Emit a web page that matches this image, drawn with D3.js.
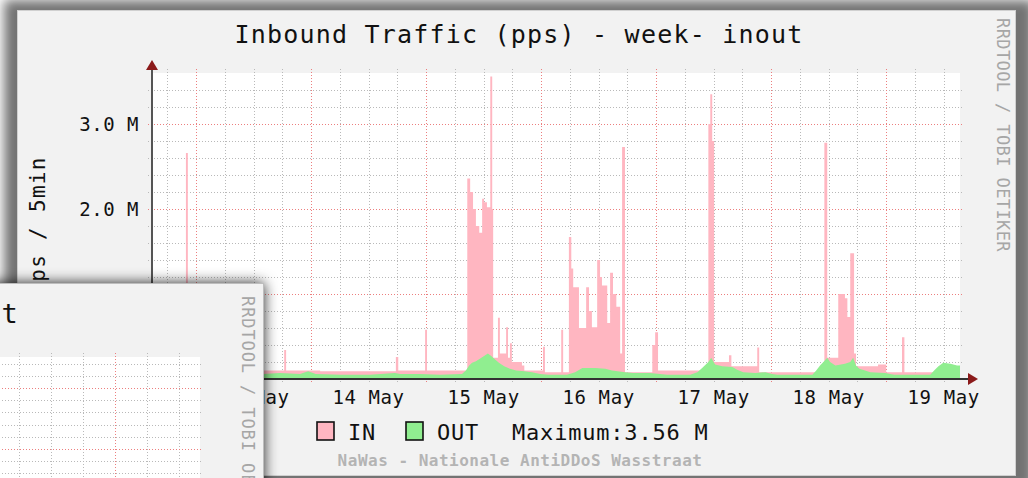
<!DOCTYPE html>
<html>
<head>
<meta charset="utf-8">
<script src="https://cdn.jsdelivr.net/npm/d3@7"></script>
<style>
body { margin: 0; background: #fff; }
svg { display: block; }
</style>
</head>
<body>
<div id="chart"></div>
<script>
// hours since 13 May 00:00 , value in M pps
var inTraffic = [[-9.2,0.09],[-2.1,2.66],[-1.7,0.09],[7.1,0.1],[18.4,0.34],[18.8,0.1],[25.9,0.09],
  [41.7,0.26],[42.2,0.1],[47.8,0.58],[48.2,0.1],[56.6,2.36],[57.2,2.2],[57.8,2.0],[58.4,1.8],
  [59.1,1.72],[59.7,2.12],[60.1,2.08],[60.7,2.02],[61.4,3.56],[61.8,2.0],[62.0,0.25],[63.0,0.72],
  [63.4,0.3],[64.7,0.61],[65.1,0.25],[65.5,0.42],[65.9,0.2],[68.0,0.16],[68.5,0.1],[72.4,0.38],
  [72.8,0.08],[76.2,0.58],[76.6,0.08],[77.8,1.67],[78.3,1.3],[78.7,1.08],[79.9,0.6],[81.4,1.08],
  [82.0,0.8],[82.6,0.61],[83.7,1.4],[84.3,1.2],[84.7,1.1],[85.8,0.66],[86.4,1.25],[87.0,1.0],
  [87.7,0.85],[88.5,0.3],[88.9,2.73],[89.5,0.08],[95.2,0.4],[95.8,0.55],[96.4,0.1],[106.9,3.0],
  [107.3,3.35],[107.7,2.8],[108.1,0.2],[111.2,0.28],[111.7,0.15],[117.1,0.37],[117.5,0.08],
  [131.1,2.78],[131.7,0.25],[134.0,1.0],[135.4,0.95],[135.9,0.73],[136.5,1.48],[137.3,0.3],
  [137.7,0.15],[142.3,0.17],[144.0,0.08],[147.3,0.49],[147.8,0.08],[159.4,0.08]];

var outTraffic = [[-9.2,0.06],[-2.3,0.07],[7.1,0.06],[14.0,0.06],[17.5,0.07],[21.7,0.06],[23.4,0.09],
  [25.0,0.06],[30.1,0.05],[36.3,0.05],[41.5,0.07],[42.6,0.06],[46.7,0.06],[50.9,0.05],[55.5,0.06],
  [56.3,0.1],[57.0,0.16],[57.6,0.19],[58.4,0.21],[59.3,0.24],[60.1,0.27],[60.9,0.3],[61.6,0.27],
  [62.4,0.23],[63.2,0.19],[64.3,0.15],[65.5,0.12],[66.8,0.1],[68.5,0.09],[70.1,0.08],[71.8,0.06],
  [73.5,0.05],[77.4,0.05],[79.1,0.08],[80.6,0.13],[83.3,0.13],[85.4,0.12],[86.8,0.1],[89.5,0.08],
  [91.2,0.07],[94.7,0.07],[96.8,0.06],[98.3,0.05],[103.1,0.05],[104.6,0.08],[105.6,0.13],
  [106.9,0.2],[107.5,0.25],[108.3,0.17],[109.8,0.15],[111.9,0.14],[112.9,0.11],[114.2,0.08],
  [116.7,0.07],[118.8,0.08],[120.2,0.06],[121.3,0.05],[128.6,0.05],[129.4,0.1],[130.2,0.16],
  [130.9,0.2],[131.7,0.25],[132.3,0.2],[133.4,0.16],[135.4,0.18],[136.5,0.2],[137.1,0.25],
  [137.7,0.16],[138.4,0.12],[139.6,0.1],[140.7,0.08],[143.8,0.07],[144.8,0.06],[145.7,0.05],
  [153.2,0.05],[154.0,0.1],[154.9,0.15],[155.9,0.19],[157.4,0.18],[158.8,0.16],[159.4,0.16]];

var dayLabels = ["13 May", "14 May", "15 May", "16 May", "17 May", "18 May", "19 May"];
var yMajor = [0, 1, 2, 3];
var yLabels = ["0.0", "1.0 M", "2.0 M", "3.0 M"];
var legendNames = ["IN", "OUT"];
var maxText = "Maximum:3.56 M";
var titleText = "Inbound Traffic (pps) - week- inout";
var yTitle = "pps / 5min";
var footerText = "NaWas - Nationale AntiDDoS Wasstraat";
var watermark = "RRDTOOL / TOBI OETIKER";

var cfg = {
  w: 1028, h: 478,
  plot: {left: 152, top: 73, right: 960, bottom: 379},
  inColor: "#ffb6c1",
  outColor: "#90ee90",
  font: "DejaVu Sans Mono"
};

var svg = d3.select("#chart").append("svg")
  .attr("width", cfg.w)
  .attr("height", cfg.h);

var defs = svg.append("defs");
defs.append("filter").attr("id", "blurMain")
  .attr("x", "-10%").attr("y", "-20%").attr("width", "120%").attr("height", "140%")
  .append("feGaussianBlur").attr("stdDeviation", 6);
defs.append("filter").attr("id", "shInner")
  .attr("x", "-20%").attr("y", "-20%").attr("width", "140%").attr("height", "140%")
  .append("feDropShadow")
  .attr("dx", 0).attr("dy", 0).attr("stdDeviation", 7)
  .attr("flood-color", "#000").attr("flood-opacity", 0.85);
defs.append("filter").attr("id", "soft")
  .append("feGaussianBlur").attr("stdDeviation", "0.6 0");
defs.append("clipPath").attr("id", "plotClip")
  .append("rect")
  .attr("x", cfg.plot.left).attr("y", cfg.plot.top)
  .attr("width", cfg.plot.right - cfg.plot.left)
  .attr("height", cfg.plot.bottom - cfg.plot.top);

// main window with its shadow
svg.append("rect")
  .attr("x", 4).attr("y", 0).attr("width", 1030).attr("height", 490)
  .attr("fill", "#000").attr("opacity", 0.55)
  .attr("filter", "url(#blurMain)");
svg.append("rect")
  .attr("x", 17.5).attr("y", 10.5).attr("width", 998).attr("height", 465)
  .attr("fill", "#f2f2f2").attr("stroke", "#d0d0d0");

svg.append("rect")
  .attr("x", cfg.plot.left).attr("y", cfg.plot.top)
  .attr("width", cfg.plot.right - cfg.plot.left)
  .attr("height", cfg.plot.bottom - cfg.plot.top)
  .attr("fill", "#fff");

var x = d3.scaleLinear().domain([-9.18, 159.4]).range([cfg.plot.left, cfg.plot.right]);
var y = d3.scaleLinear().domain([0, 3.6]).range([cfg.plot.bottom, cfg.plot.top]);

var grid = svg.append("g").attr("shape-rendering", "crispEdges");

// minor grid
var minorH = d3.range(1, 18).map(function(i) { return i * 0.2; })
  .filter(function(v) { return Math.abs(v - Math.round(v)) > 0.01; });
grid.selectAll(".hmin").data(minorH).enter().append("line")
  .attr("x1", cfg.plot.left - 4).attr("x2", cfg.plot.right + 3)
  .attr("y1", function(d) { return Math.round(y(d)) + 0.5; })
  .attr("y2", function(d) { return Math.round(y(d)) + 0.5; })
  .attr("stroke", "#b9b9b9").attr("stroke-dasharray", "1,2");

var minorV = d3.range(-6, 160, 6).filter(function(h) { return h % 24 !== 0; });
grid.selectAll(".vmin").data(minorV).enter().append("line")
  .attr("y1", cfg.plot.top - 4).attr("y2", cfg.plot.bottom + 4)
  .attr("x1", function(d) { return Math.round(x(d)) + 0.5; })
  .attr("x2", function(d) { return Math.round(x(d)) + 0.5; })
  .attr("stroke", "#b9b9b9").attr("stroke-dasharray", "1,2");

// major grid
grid.selectAll(".hmaj").data(yMajor.slice(1)).enter().append("line")
  .attr("x1", cfg.plot.left - 4).attr("x2", cfg.plot.right + 3)
  .attr("y1", function(d) { return Math.round(y(d)) + 0.5; })
  .attr("y2", function(d) { return Math.round(y(d)) + 0.5; })
  .attr("stroke", "#ec7f7f").attr("stroke-dasharray", "1,2");

var majorV = d3.range(0, 160, 24);
grid.selectAll(".vmaj").data(majorV).enter().append("line")
  .attr("y1", cfg.plot.top - 4).attr("y2", cfg.plot.bottom + 5)
  .attr("x1", function(d) { return Math.round(x(d)) + 0.5; })
  .attr("x2", function(d) { return Math.round(x(d)) + 0.5; })
  .attr("stroke", "#ec7f7f").attr("stroke-dasharray", "1,2");

// data
var plot = svg.append("g").attr("clip-path", "url(#plotClip)");

plot.append("path")
  .datum(inTraffic)
  .attr("fill", cfg.inColor)
  .attr("filter", "url(#soft)")
  .attr("d", d3.area().curve(d3.curveStepAfter)
    .x(function(d) { return x(d[0]); })
    .y0(y(0))
    .y1(function(d) { return y(d[1]); }));

plot.append("path")
  .datum(outTraffic)
  .attr("fill", cfg.outColor)
  .attr("d", d3.area()
    .x(function(d) { return x(d[0]); })
    .y0(y(0))
    .y1(function(d) { return y(d[1]); }));

// axes
svg.append("line")
  .attr("x1", cfg.plot.left).attr("x2", cfg.plot.left)
  .attr("y1", cfg.plot.top - 5).attr("y2", cfg.plot.bottom)
  .attr("stroke", "#555").attr("stroke-width", 2);
svg.append("line")
  .attr("x1", cfg.plot.left - 4).attr("x2", cfg.plot.right + 8)
  .attr("y1", cfg.plot.bottom).attr("y2", cfg.plot.bottom)
  .attr("stroke", "#333").attr("stroke-width", 2);
svg.append("path")
  .attr("d", "M" + (cfg.plot.left - 6) + "," + (cfg.plot.top - 3) +
    "L" + cfg.plot.left + "," + (cfg.plot.top - 13) +
    "L" + (cfg.plot.left + 6) + "," + (cfg.plot.top - 3) + "Z")
  .attr("fill", "#8b1a1a");
svg.append("path")
  .attr("d", "M" + (cfg.plot.right + 8) + "," + (cfg.plot.bottom - 6) +
    "L" + (cfg.plot.right + 18) + "," + cfg.plot.bottom +
    "L" + (cfg.plot.right + 8) + "," + (cfg.plot.bottom + 6) + "Z")
  .attr("fill", "#8b1a1a");

// tick labels
svg.selectAll(".ylab").data(yMajor).enter().append("text")
  .attr("x", 139)
  .attr("y", function(d) { return y(d) + 7; })
  .attr("text-anchor", "end")
  .attr("font-family", cfg.font).attr("font-size", 19).attr("letter-spacing", 0.5)
  .attr("fill", "#111")
  .text(function(d, i) { return yLabels[i]; });

svg.selectAll(".xlab").data(dayLabels).enter().append("text")
  .attr("x", function(d, i) { return x(12 + i * 24); })
  .attr("y", 404)
  .attr("text-anchor", "middle")
  .attr("font-family", cfg.font).attr("font-size", 19).attr("letter-spacing", 0.6)
  .attr("fill", "#111")
  .text(function(d) { return d; });

// title
svg.append("text")
  .attr("x", 519).attr("y", 43)
  .attr("text-anchor", "middle")
  .attr("font-family", cfg.font).attr("font-size", 25).attr("letter-spacing", 1.2)
  .attr("fill", "#111")
  .text(titleText);

svg.append("text")
  .attr("transform", "translate(45,226) rotate(-90)")
  .attr("text-anchor", "middle")
  .attr("font-family", cfg.font).attr("font-size", 21).attr("letter-spacing", 1.3)
  .attr("fill", "#111")
  .text(yTitle);

svg.append("text")
  .attr("transform", "translate(997,18) rotate(90)")
  .attr("font-family", cfg.font).attr("font-size", 17).attr("letter-spacing", 0.4)
  .attr("fill", "#a6a6a6")
  .text(watermark);

// legend
var legend = svg.append("g");
var legX = [317, 406];
legend.selectAll(".lbox").data(legendNames).enter().append("rect")
  .attr("x", function(d, i) { return legX[i]; }).attr("y", 422)
  .attr("width", 17).attr("height", 18)
  .attr("fill", function(d, i) { return i === 0 ? cfg.inColor : cfg.outColor; })
  .attr("stroke", "#111").attr("stroke-width", 1.6);
legend.selectAll(".ltxt").data(legendNames).enter().append("text")
  .attr("x", function(d, i) { return legX[i] + 31; }).attr("y", 440)
  .attr("font-family", cfg.font).attr("font-size", 22).attr("letter-spacing", 0.8)
  .attr("fill", "#111")
  .text(function(d) { return d; });
legend.append("text")
  .attr("x", 512).attr("y", 440)
  .attr("font-family", cfg.font).attr("font-size", 22).attr("letter-spacing", 0.8)
  .attr("fill", "#111")
  .text(maxText);

svg.append("text")
  .attr("x", 520).attr("y", 466)
  .attr("text-anchor", "middle")
  .attr("font-family", cfg.font).attr("font-size", 16).attr("font-weight", "bold")
  .attr("letter-spacing", 0.5)
  .attr("fill", "#b4b4b4")
  .text(footerText);

// second window lying on top (lower left)
var win2 = svg.append("g");
win2.append("rect")
  .attr("x", -400).attr("y", 283.5).attr("width", 663.5).attr("height", 300)
  .attr("fill", "#f2f2f2").attr("stroke", "#bdbdbd")
  .attr("filter", "url(#shInner)");
win2.append("rect")
  .attr("x", -400).attr("y", 357).attr("width", 600).attr("height", 200)
  .attr("fill", "#fff");

var x2 = d3.scaleLinear().domain([0, 6]).range([115, 147]);
var y2 = d3.scaleLinear().domain([1, 2]).range([449, 388]);
var g2 = win2.append("g").attr("shape-rendering", "crispEdges");

var minorH2 = d3.range(0, 13).map(function(i) { return i * 0.2; })
  .filter(function(v) { return Math.abs(v - Math.round(v)) > 0.01 && y2(v) > 360; });
g2.selectAll(".h2").data(minorH2).enter().append("line")
  .attr("x1", -10).attr("x2", 203)
  .attr("y1", function(d) { return Math.round(y2(d)) + 0.5; })
  .attr("y2", function(d) { return Math.round(y2(d)) + 0.5; })
  .attr("stroke", "#b9b9b9").attr("stroke-dasharray", "1,2");
var minorV2 = [-18, -12, -6, 6, 12];
g2.selectAll(".v2").data(minorV2).enter().append("line")
  .attr("y1", 353).attr("y2", 490)
  .attr("x1", function(d) { return Math.round(x2(d)) + 0.5; })
  .attr("x2", function(d) { return Math.round(x2(d)) + 0.5; })
  .attr("stroke", "#b9b9b9").attr("stroke-dasharray", "1,2");
g2.selectAll(".h2m").data([1, 2]).enter().append("line")
  .attr("x1", -10).attr("x2", 203)
  .attr("y1", function(d) { return Math.round(y2(d)) + 0.5; })
  .attr("y2", function(d) { return Math.round(y2(d)) + 0.5; })
  .attr("stroke", "#ec7f7f").attr("stroke-dasharray", "1,2");
g2.append("line")
  .attr("y1", 353).attr("y2", 490)
  .attr("x1", Math.round(x2(0)) + 0.5).attr("x2", Math.round(x2(0)) + 0.5)
  .attr("stroke", "#ec7f7f").attr("stroke-dasharray", "1,2");

win2.append("text")
  .attr("x", 19).attr("y", 323)
  .attr("text-anchor", "end")
  .attr("font-family", cfg.font).attr("font-size", 27).attr("letter-spacing", 1.2)
  .attr("fill", "#111")
  .text(titleText);
win2.append("text")
  .attr("transform", "translate(242,296) rotate(90)")
  .attr("font-family", cfg.font).attr("font-size", 17).attr("letter-spacing", 0.9)
  .attr("fill", "#a6a6a6")
  .text(watermark);
</script>
</body>
</html>
